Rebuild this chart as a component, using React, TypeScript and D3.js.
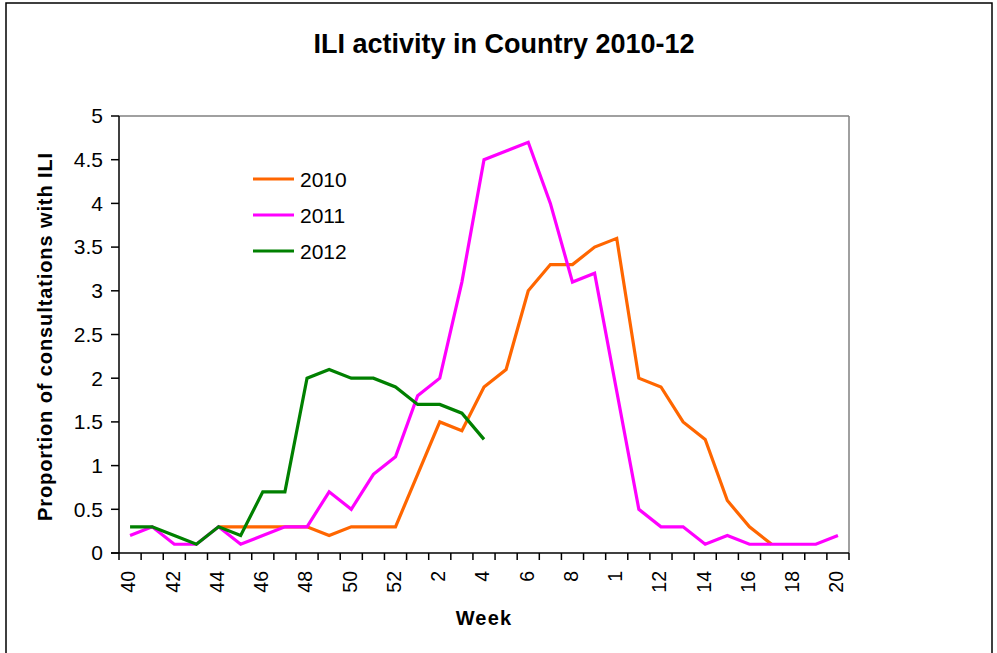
import React from "react";
import * as d3 from "d3";

const weeks: number[] = [40,41,42,43,44,45,46,47,48,49,50,51,52,1,2,3,4,5,6,7,8,9,10,11,12,13,14,15,16,17,18,19,20];
const tickLabels: string[] = ["40","42","44","46","48","50","52","2","4","6","8","1","12","14","16","18","20"];
const yTicks: number[] = [0,0.5,1,1.5,2,2.5,3,3.5,4,4.5,5];

const s2010: (number | null)[] = [null,null,null,null,0.3,0.3,0.3,0.3,0.3,0.2,0.3,0.3,0.3,0.9,1.5,1.4,1.9,2.1,3.0,3.3,3.3,3.5,3.6,2.0,1.9,1.5,1.3,0.6,0.3,0.1,null,null,null];
const s2011: (number | null)[] = [0.2,0.3,0.1,0.1,0.3,0.1,0.2,0.3,0.3,0.7,0.5,0.9,1.1,1.8,2.0,3.1,4.5,4.6,4.7,4.0,3.1,3.2,1.85,0.5,0.3,0.3,0.1,0.2,0.1,0.1,0.1,0.1,0.2];
const s2012: (number | null)[] = [0.3,0.3,0.2,0.1,0.3,0.2,0.7,0.7,2.0,2.1,2.0,2.0,1.9,1.7,1.7,1.6,1.3,null,null,null,null,null,null,null,null,null,null,null,null,null,null,null,null];

const seriesNames = ["2010", "2011", "2012"];
const seriesData = [s2010, s2011, s2012];
const colors = ["#FF6600", "#FF00FF", "#008000"];

const W = 997, H = 653;
const plot = { left: 119, right: 849, top: 116, bottom: 553 };

export default function App() {
  const x = d3.scaleBand<number>().domain(d3.range(weeks.length)).range([plot.left, plot.right]).padding(0);
  const y = d3.scaleLinear().domain([0, 5]).range([plot.bottom, plot.top]);
  const cx = (i: number) => (x(i) as number) + x.bandwidth() / 2;
  const line = d3.line<number | null>()
    .defined((d) => d !== null)
    .x((_, i) => cx(i))
    .y((d) => y(d as number));

  const font = "Arial, 'Liberation Sans', sans-serif";
  const boundaries = d3.range(weeks.length + 1).map((i) => plot.left + i * x.bandwidth());

  return (
    <svg width={W} height={H} style={{ position: "absolute", left: 0, top: 0, background: "#fff" }} fontFamily={font}>
      <rect x={6} y={3} width={986} height={670} fill="#fff" stroke="#000" strokeWidth={1.5} />
      <text x={504} y={53} textAnchor="middle" fontSize={27} fontWeight="bold">ILI activity in Country 2010-12</text>

      {/* plot border top/right */}
      <line x1={plot.left} x2={plot.right} y1={plot.top} y2={plot.top} stroke="#808080" strokeWidth={1.5} />
      <line x1={plot.right} x2={plot.right} y1={plot.top} y2={plot.bottom} stroke="#808080" strokeWidth={1.5} />

      {/* y axis */}
      <line x1={plot.left} x2={plot.left} y1={plot.top} y2={plot.bottom} stroke="#000" strokeWidth={1.5} />
      {yTicks.map((t) => (
        <g key={t}>
          <line x1={plot.left - 8} x2={plot.left} y1={y(t)} y2={y(t)} stroke="#000" strokeWidth={1.5} />
          <text x={plot.left - 16} y={y(t)} dy="0.35em" textAnchor="end" fontSize={21}>{String(t)}</text>
        </g>
      ))}

      {/* x axis */}
      <line x1={plot.left - 8} x2={plot.right} y1={plot.bottom} y2={plot.bottom} stroke="#000" strokeWidth={1.5} />
      {boundaries.map((b, i) => (
        <line key={i} x1={b} x2={b} y1={plot.bottom} y2={plot.bottom + 7} stroke="#000" strokeWidth={1.5} />
      ))}
      {tickLabels.map((lab, k) => {
        const i = k * 2;
        const px = cx(i) - 1.5;
        const py = 571;
        return (
          <text key={k} transform={`translate(${px},${py}) rotate(-90)`} textAnchor="end" dy="0.35em" fontSize={19.5}>{lab}</text>
        );
      })}

      {/* axis titles */}
      <text x={484} y={625} textAnchor="middle" fontSize={20} fontWeight="bold" letterSpacing={1.2}>Week</text>
      <text transform={`translate(52,${(plot.top + plot.bottom) / 2 + 2}) rotate(-90)`} textAnchor="middle" fontSize={20} fontWeight="bold" letterSpacing={0.9}>Proportion of consultations with ILI</text>

      {/* series */}
      {seriesData.map((s, k) => (
        <path key={k} d={line(s) || ""} fill="none" stroke={colors[k]} strokeWidth={3.2} strokeLinejoin="miter" />
      ))}

      {/* legend */}
      {seriesNames.map((n, k) => (
        <g key={n}>
          <line x1={253} x2={294} y1={179 + k * 36} y2={179 + k * 36} stroke={colors[k]} strokeWidth={3.2} />
          <text x={300} y={179 + k * 36} dy="0.36em" fontSize={21}>{n}</text>
        </g>
      ))}
    </svg>
  );
}
